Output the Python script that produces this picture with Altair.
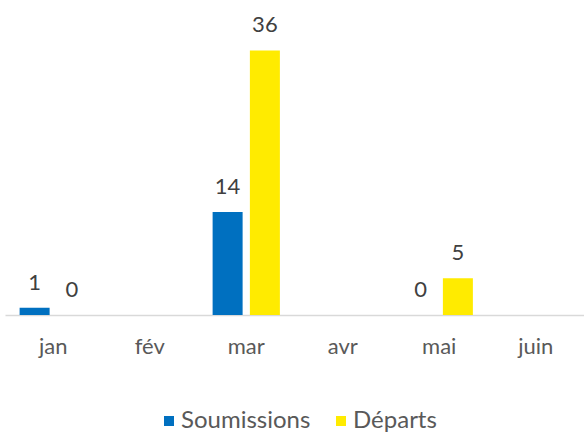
import altair as alt
import pandas as pd

months = ["jan", "fév", "mar", "avr", "mai", "juin"]
series = ["Soumissions", "Départs"]
colors = ["#0070C0", "#FFEB00"]
# (month, series, value)
data_months = ["jan", "jan", "mar", "mar", "mai", "mai"]
data_series = ["Soumissions", "Départs", "Soumissions", "Départs", "Soumissions", "Départs"]
data_values = [1, 0, 14, 36, 0, 5]

df = pd.DataFrame({"mois": data_months, "serie": data_series, "valeur": data_values})

FONT = "Lato"

x = alt.X("mois:N", sort=months, scale=alt.Scale(domain=months, paddingInner=0, paddingOuter=0),
          axis=alt.Axis(title=None, labelAngle=0, labelFontSize=22, labelColor="#595959",
                        labelFont=FONT, labelPadding=21, ticks=False, domainColor="#D9D9D9",
                        domainWidth=1.5, grid=False))
xo = alt.XOffset("serie:N", sort=series,
                 scale=alt.Scale(domain=series, paddingInner=0.2105, paddingOuter=0.40))
y = alt.Y("valeur:Q", scale=alt.Scale(domain=[0, 40]), axis=None)

bars = alt.Chart(df).mark_bar(size=30).encode(
    x=x, xOffset=xo, y=y,
    color=alt.Color("serie:N", sort=series,
                    scale=alt.Scale(domain=series, range=colors),
                    legend=alt.Legend(title=None, orient="none", direction="horizontal",
                                      legendX=152, legendY=388, symbolType="square",
                                      symbolSize=100, symbolStrokeWidth=0,
                                      labelFontSize=24, labelFont=FONT, labelColor="#595959",
                                      columnPadding=18, symbolOffset=0, labelOffset=0)),
)

labels = alt.Chart(df).mark_text(dy=-25, fontSize=22, font=FONT, color="#404040").encode(
    x=x, xOffset=xo, y=y, text=alt.Text("valeur:Q")
)

chart = (bars + labels).properties(
    width=579, height=294,
    padding={"left": 5, "top": 14, "right": 0, "bottom": 0},
).configure(background="white").configure_view(stroke="transparent", strokeWidth=0)

chart.save("out.html", embed_options={"renderer": "svg", "actions": False})
